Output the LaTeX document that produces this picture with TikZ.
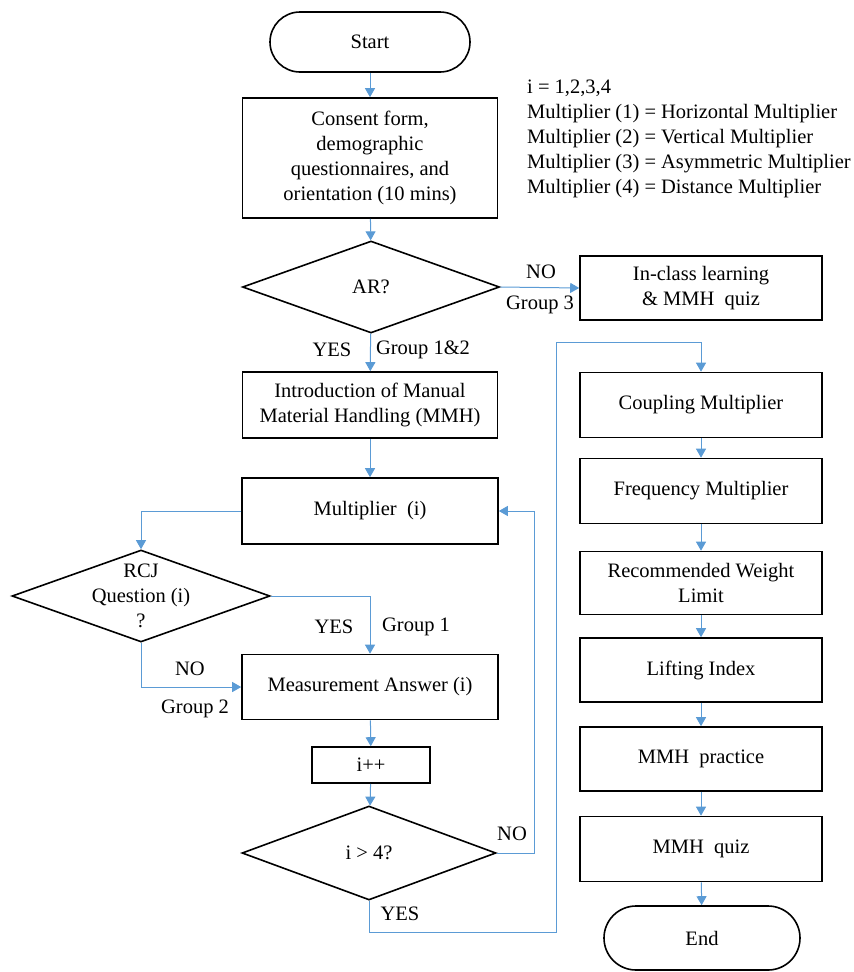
\documentclass[tikz,border=0pt]{standalone}
\usepackage{fontspec}
\setmainfont{Liberation Serif}
\usetikzlibrary{shapes.geometric,arrows.meta}
\definecolor{flow}{RGB}{91,155,213}
\begin{document}
\begin{tikzpicture}[x=1pt,y=-1pt,
  every node/.style={font=\fontsize{20.5}{25}\selectfont},
  box/.style={draw=black,line width=1.6pt,rectangle,align=center,inner sep=2pt},
  term/.style={draw=black,line width=1.6pt,rectangle,rounded corners=30pt,align=center},
  decision/.style={draw=black,line width=1.6pt,diamond,align=center,inner sep=0pt,aspect=2.8},
  link/.style={draw=flow,line width=1pt,-{Triangle[width=10pt,length=9pt]}},
  lbl/.style={inner sep=0pt}]
\useasboundingbox (0,0) rectangle (854,972);

% left column
\node[term,minimum width=200,minimum height=60] (start) at (370,42) {Start};
\node[box,minimum width=255,minimum height=120] (consent) at (370,158)
  {Consent form,\\demographic\\questionnaires, and\\orientation (10 mins)};
\node[decision,minimum width=257,minimum height=92] (ar) at (371,287) {AR?};
\node[box,minimum width=242,minimum height=64] (inclass) at (701,288)
  {In-class learning\\\& MMH\ \ quiz};
\node[box,minimum width=255,minimum height=66] (intro) at (370,405)
  {Introduction of Manual\\Material Handling (MMH)};
\node[box,minimum width=256,minimum height=66] (mult) at (370,511) {Multiplier\ \ (i)};
% the three-line question sits over the diamond without widening it
\node[decision,minimum width=258,minimum height=92,
  label={[lbl,align=center]center:RCJ\\Question (i)\\?}] (rcj) at (141,596) {};
\node[box,minimum width=256,minimum height=65] (meas) at (370,687) {Measurement Answer (i)};
\node[box,minimum width=118,minimum height=36] (inc) at (371,765) {i++};
\node[decision,minimum width=254,minimum height=94] (cnt) at (369,853) {i \textgreater{} 4?};

% right column
\node[box,minimum width=242,minimum height=65] (coup) at (701,405) {Coupling Multiplier};
\node[box,minimum width=242,minimum height=65] (freq) at (701,491) {Frequency Multiplier};
\node[box,minimum width=242,minimum height=63] (rwl) at (701,583) {Recommended Weight\\Limit};
\node[box,minimum width=242,minimum height=64] (li) at (701,670) {Lifting Index};
\node[box,minimum width=242,minimum height=64] (prac) at (701,759) {MMH\ \ practice};
\node[box,minimum width=242,minimum height=65] (quiz) at (701,849) {MMH\ \ quiz};
\node[term,minimum width=196,minimum height=64,rounded corners=32pt] (stop) at (702,938) {End};

% legend
\node[lbl,anchor=north west,align=left] (legend) at (527,80)
  {i = 1,2,3,4\\
   Multiplier (1) = Horizontal Multiplier\\
   Multiplier (2) = Vertical Multiplier\\
   Multiplier (3) = Asymmetric Multiplier\\
   Multiplier (4) = Distance Multiplier};

% corner points of the connectors
\coordinate (rcjin) at (141,511);
\coordinate (yesturn) at (370,596);
\coordinate (noturn) at (141,687);
\coordinate (loopa) at (534,853);
\coordinate (loopb) at (534,511);
\coordinate (exita) at (369,932);
\coordinate (exitb) at (556,932);
\coordinate (exitc) at (556,342);
\coordinate (exitd) at (701,342);

% connectors
\draw[link] (start) -- (consent);
\draw[link] (consent) -- (ar);
\draw[link] (ar.east) -- (inclass.west);
\draw[link] (ar) -- (intro);
\draw[link] (intro) -- (mult);
\draw[link] (mult.west) -- (rcjin) -- (rcj.north);
\draw[link] (rcj.east) -- (yesturn) -- (meas.north);
\draw[link] (rcj.south) -- (noturn) -- (meas.west);
\draw[link] (meas) -- (inc);
\draw[link] (inc) -- (cnt);
\draw[link] (cnt.east) -- (loopa) -- (loopb) -- (mult.east);
\draw[link] (cnt.south) -- (exita) -- (exitb) -- (exitc) -- (exitd) -- (coup.north);
\draw[link] (coup) -- (freq);
\draw[link] (freq) -- (rwl);
\draw[link] (rwl) -- (li);
\draw[link] (li) -- (prac);
\draw[link] (prac) -- (quiz);
\draw[link] (quiz) -- (stop);

% branch labels
\node[lbl] (arno) at (541,272) {NO};
\node[lbl] (argrp) at (540,305) {Group 3};
\node[lbl] (aryes) at (332,350) {YES};
\node[lbl] (argrp12) at (423,350) {Group 1\&2};
\node[lbl] (rcjyes) at (334,627) {YES};
\node[lbl] (rcjgrp1) at (416,627) {Group 1};
\node[lbl] (rcjno) at (190,669) {NO};
\node[lbl] (rcjgrp2) at (195,709) {Group 2};
\node[lbl] (cntno) at (512,834) {NO};
\node[lbl] (cntyes) at (400,914) {YES};
\end{tikzpicture}
\end{document}
